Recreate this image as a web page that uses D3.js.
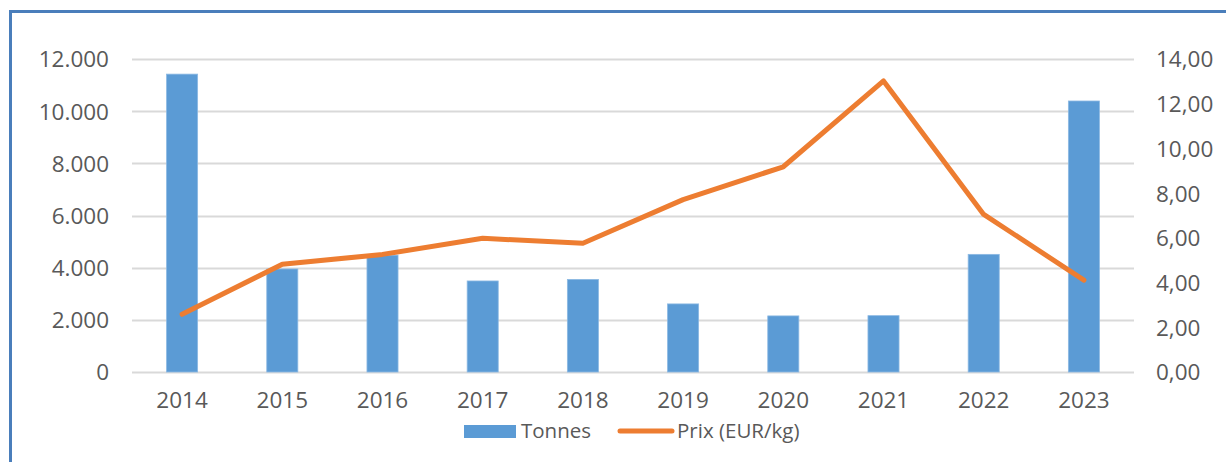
<!DOCTYPE html>
<html>
<head>
<meta charset="utf-8">
<script src="https://cdn.jsdelivr.net/npm/d3@7"></script>
<style>
  html, body { margin: 0; padding: 0; background: #fff; }
  svg { display: block; }
  text { font-family: "Open Sans", sans-serif; fill: #595959; }
</style>
</head>
<body>
<svg id="chart" width="1226" height="462"></svg>
<script>
// Years on the category axis
const years = ["2014", "2015", "2016", "2017", "2018", "2019", "2020", "2021", "2022", "2023"];
// Volume in tonnes (bars, left axis)
const tonnes = [11420, 3950, 4480, 3490, 3550, 2610, 2150, 2160, 4510, 10390];
// Price in EUR/kg (line, right axis)
const prix = [2.58, 4.82, 5.26, 5.98, 5.76, 7.71, 9.18, 13.02, 7.05, 4.11];
// Axis ticks
const leftTicks = [0, 2000, 4000, 6000, 8000, 10000, 12000];
const rightTicks = [0, 2, 4, 6, 8, 10, 12, 14];
const seriesNames = ["Tonnes", "Prix (EUR/kg)"];

const svg = d3.select("#chart");
const blue = "#5b9bd5", orange = "#ed7d31";
const tickFont = "22.5px";

const plot = { left: 132, right: 1134, top: 59, bottom: 372 };

const x = d3.scaleBand().domain(years).range([plot.left, plot.right]).paddingInner(0.69).paddingOuter(0.345);
const yL = d3.scaleLinear().domain([0, 12000]).range([plot.bottom, plot.top]);
const yR = d3.scaleLinear().domain([0, 14]).range([plot.bottom, plot.top]);

const fmtL = v => d3.format(",")(v).replace(/,/g, ".");
const fmtR = v => d3.format(".2f")(v).replace(".", ",");

// Frame
svg.append("path")
  .attr("d", "M10.5,462 L10.5,11.5 L1226,11.5")
  .attr("fill", "none").attr("stroke", "#4a7ebb").attr("stroke-width", 3);

// Gridlines
svg.append("g").selectAll("line").data(leftTicks).join("line")
  .attr("x1", plot.left).attr("x2", plot.right)
  .attr("y1", d => Math.round(yL(d)) + 0.5).attr("y2", d => Math.round(yL(d)) + 0.5)
  .attr("stroke", "#d9d9d9").attr("stroke-width", 2);

// Left axis
const axL = svg.append("g").attr("transform", `translate(${plot.left},0)`)
  .call(d3.axisLeft(yL).tickValues(leftTicks).tickFormat(fmtL).tickSize(0).tickPadding(23));
axL.select(".domain").remove();
axL.selectAll("text").style("font-size", tickFont).attr("fill", "#595959").attr("dy", "0.35em");

// Right axis
const axR = svg.append("g").attr("transform", `translate(${plot.right},0)`)
  .call(d3.axisRight(yR).tickValues(rightTicks).tickFormat(fmtR).tickSize(0).tickPadding(22));
axR.select(".domain").remove();
axR.selectAll("text").style("font-size", tickFont).attr("fill", "#595959").attr("dy", "0.35em");

// Bottom axis
const axB = svg.append("g").attr("transform", `translate(0,${plot.bottom})`)
  .call(d3.axisBottom(x).tickSize(0).tickPadding(20));
axB.select(".domain").remove();
axB.selectAll("text").style("font-size", tickFont).attr("fill", "#595959");

// Bars
svg.append("g").selectAll("rect").data(years).join("rect")
  .attr("x", d => x(d))
  .attr("width", x.bandwidth())
  .attr("y", (d, i) => yL(tonnes[i]))
  .attr("height", (d, i) => yL(0) - yL(tonnes[i]))
  .attr("fill", blue)
  .attr("stroke", "#8cb9e3").attr("stroke-width", 0.8);

// Price line
const line = d3.line()
  .x((d, i) => x(years[i]) + x.bandwidth() / 2)
  .y(d => yR(d));
svg.append("path").datum(prix)
  .attr("d", line)
  .attr("fill", "none").attr("stroke", orange).attr("stroke-width", 5)
  .attr("stroke-linejoin", "round").attr("stroke-linecap", "round");

// Legend
const lg = svg.append("g");
lg.append("rect").attr("x", 464).attr("y", 425).attr("width", 52).attr("height", 13).attr("fill", blue);
lg.append("text").attr("x", 521).attr("y", 431).attr("dy", "0.35em").style("font-size", "20.5px").text(seriesNames[0]);
lg.append("line").attr("x1", 620).attr("x2", 672).attr("y1", 431).attr("y2", 431)
  .attr("stroke", orange).attr("stroke-width", 5).attr("stroke-linecap", "round");
lg.append("text").attr("x", 677).attr("y", 431).attr("dy", "0.35em").style("font-size", "20.5px").text(seriesNames[1]);
</script>
</body>
</html>
